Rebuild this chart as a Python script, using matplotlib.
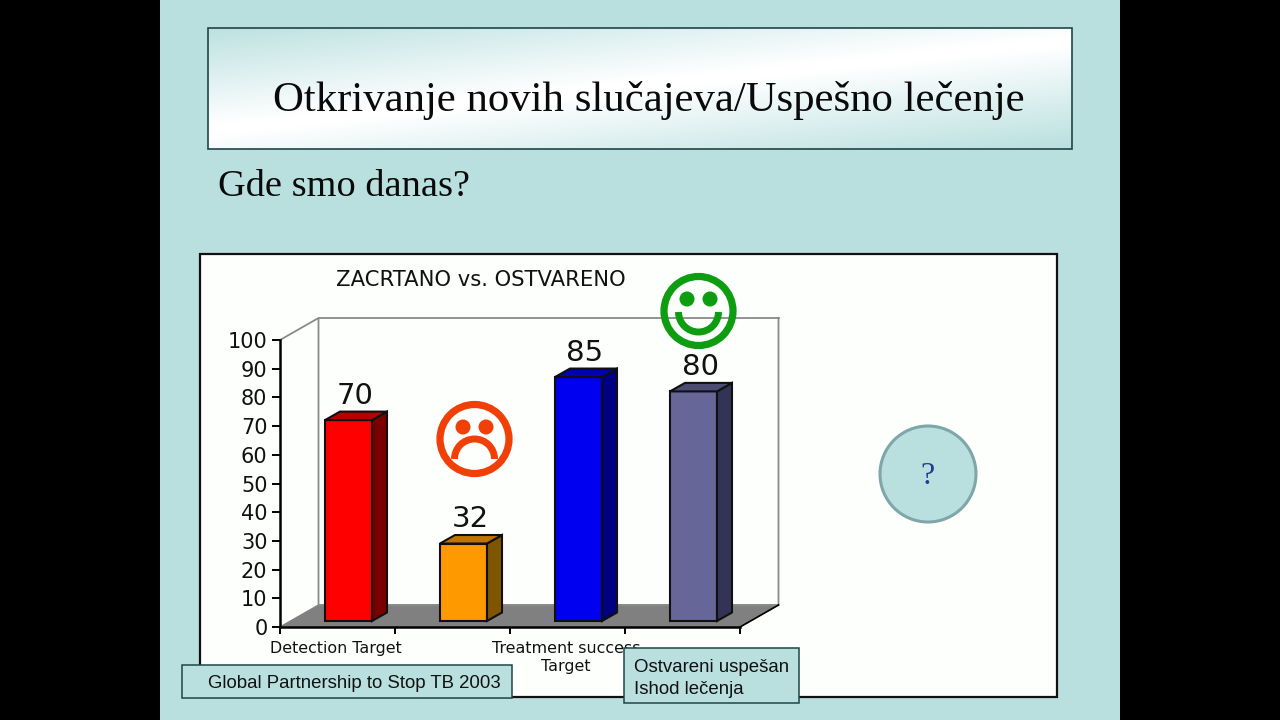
# -*- coding: utf-8 -*-
import numpy as np
import matplotlib
matplotlib.use("Agg")
import matplotlib.pyplot as plt
from matplotlib.colors import LinearSegmentedColormap
from matplotlib.patches import Arc, Circle, Polygon, Rectangle

# Donnees
x_labels = ["Detection Target", "Treatment success\nTarget"]
x_label_pos = [0.5, 2.5]
bar_pos = [0.5, 1.5, 2.5, 3.5]
bar_values = [70, 27, 85, 80]      # hauteur dessinee
bar_texts = ["70", "32", "85", "80"]  # valeur affichee
y_ticks = [0, 10, 20, 30, 40, 50, 60, 70, 80, 90, 100]
x_ticks = [0, 1, 2, 3, 4]

front_colors = ["#FF0000", "#FF9900", "#0000F0", "#666699"]
side_colors = ["#7A0000", "#7F5500", "#000080", "#333355"]
top_colors = ["#B80000", "#BF7400", "#0000B4", "#4C4C73"]

BG = "#B9E0DF"
W, H = 1280, 720
SERIF = "Liberation Serif"
SANS = "DejaVu Sans"

fig = plt.figure(figsize=(W / 100, H / 100), dpi=100, facecolor="black")

# fond de la diapo, en pixels
bg = fig.add_axes([0, 0, 1, 1], zorder=0)
bg.set_xlim(0, W)
bg.set_ylim(H, 0)
bg.axis("off")
bg.add_patch(Rectangle((160, 0), 960, 720, fc=BG, ec="none"))

# cadre du titre avec degrade en diagonale
yy, xx = np.mgrid[0:1:120j, 0:1:430j]
t = yy + 0.75 * xx
grad = np.clip(1.05 - np.abs(t - 0.85) / 0.85, 0, 1)
cmap = LinearSegmentedColormap.from_list("titre", [BG, "#FFFFFF"])
bg.imshow(grad, cmap=cmap, extent=(208, 1072, 149, 28), aspect="auto", zorder=1)
bg.set_xlim(0, W)
bg.set_ylim(H, 0)
bg.add_patch(Rectangle((208, 28), 864, 121, fc="none", ec="#1F4548", lw=1.2, zorder=2))
bg.text(273, 101, "Otkrivanje novih slučajeva/Uspešno lečenje", family=SERIF,
        fontsize=30.8, color="#0A0A0A", va="center", ha="left", zorder=3)
bg.text(218, 187, "Gde smo danas?", family=SERIF, fontsize=27.6,
        color="#0A0A0A", va="center", ha="left", zorder=3)

# panneau blanc
bg.add_patch(Rectangle((200, 254), 857, 443, fc="#FDFFFD", ec="#111111", lw=1.6, zorder=1))
bg.text(336, 280, "ZACRTANO vs. OSTVARENO", family=SANS, fontsize=15.2,
        color="#111111", va="center", ha="left", zorder=3)

# graphique : axe avant de x=280 a 740 et y=627 a 340
ax = fig.add_axes([280 / W, 1 - 627 / H, 460 / W, 287 / H], zorder=1)
ax.patch.set_alpha(0)
ax.set_xlim(0, 4)
ax.set_ylim(0, 100)

px_x = 4 / 460.0
px_y = 100 / 287.0
wall_dx, wall_dy = 38.5 * px_x, 22 * px_y
bar_dx, bar_dy = 15 * px_x, 8.5 * px_y
shift_x, shift_y = 11 * px_x, 6 * px_y
half = 23.5 * px_x

# murs et sol en perspective
ax.add_patch(Polygon([(0, 0), (4, 0), (4 + wall_dx, wall_dy), (wall_dx, wall_dy)],
                     fc="#808080", ec="#808080", lw=1, clip_on=False, zorder=1))
ax.plot([0, wall_dx, wall_dx, 4 + wall_dx, 4 + wall_dx],
        [100, 100 + wall_dy, wall_dy, wall_dy, 100 + wall_dy],
        color="#8A8A8A", lw=1.3, clip_on=False, zorder=1)
ax.plot([wall_dx, 4 + wall_dx], [100 + wall_dy, 100 + wall_dy],
        color="#8A8A8A", lw=1.3, clip_on=False, zorder=1)
ax.plot([4, 4 + wall_dx], [0, wall_dy], color="black", lw=1.2, clip_on=False, zorder=1)

for i in range(len(bar_values)):
    left = bar_pos[i] + shift_x - half
    right = bar_pos[i] + shift_x + half
    top = shift_y + bar_values[i]
    ax.bar(left, bar_values[i], width=right - left, bottom=shift_y, align="edge",
           color=front_colors[i], edgecolor="#101010", lw=1.5, zorder=3)
    ax.add_patch(Polygon([(right, shift_y), (right + bar_dx, shift_y + bar_dy),
                          (right + bar_dx, top + bar_dy), (right, top)],
                         fc=side_colors[i], ec="#101010", lw=1.5, zorder=3))
    ax.add_patch(Polygon([(left, top), (right, top), (right + bar_dx, top + bar_dy),
                          (left + bar_dx, top + bar_dy)],
                         fc=top_colors[i], ec="#101010", lw=1.5, zorder=3))
    ax.text((left + right + bar_dx) / 2 - 1 * px_x, top + bar_dy + 0.6, bar_texts[i], family=SANS,
            fontsize=21, color="#111111", ha="center", va="bottom", zorder=4)

for s in ["top", "right"]:
    ax.spines[s].set_visible(False)
ax.spines["left"].set_linewidth(1.8)
ax.spines["bottom"].set_linewidth(1.8)
ax.set_yticks(y_ticks)
ax.set_xticks(x_ticks)
ax.set_xticklabels([])
ax.tick_params(axis="y", length=5.5, width=1.4, pad=3.5, labelsize=15, labelfontfamily=SANS,
               labelcolor="#111111")
ax.tick_params(axis="x", length=5, width=1.4)
for p, lab in zip(x_label_pos, x_labels):
    ax.annotate(lab, (p, 0), xytext=(-1, -10), textcoords="offset points", family=SANS,
                fontsize=11.4, color="#111111", ha="center", va="top",
                linespacing=1.25, annotation_clip=False)

# elements poses par-dessus le graphique
top_ax = fig.add_axes([0, 0, 1, 1], zorder=3)
top_ax.set_xlim(0, W)
top_ax.set_ylim(H, 0)
top_ax.axis("off")


def smiley(cx, cy, color, happy):
    top_ax.add_patch(Circle((cx, cy), 34.5, fc="none", ec=color, lw=5.2))
    for ex in (cx - 11.5, cx + 11.5):
        top_ax.add_patch(Circle((ex, cy - 12), 7.5, fc=color, ec="none"))
    if happy:
        top_ax.add_patch(Arc((cx, cy + 1), 40, 40, theta1=0, theta2=180, ec=color, lw=5))
    else:
        top_ax.add_patch(Arc((cx, cy + 20), 40, 40, theta1=180, theta2=360, ec=color, lw=5))


smiley(474.5, 439, "#F04008", False)
smiley(698.5, 311, "#0E9C10", True)

top_ax.add_patch(Circle((928, 474), 48, fc=BG, ec="#7FA6A8", lw=2.2))
top_ax.text(928, 477, "?", family=SERIF, fontsize=23, color="#243C8C", ha="center", va="center")

top_ax.add_patch(Rectangle((182, 665), 330, 33, fc=BG, ec="#1F4548", lw=1.1))
top_ax.text(208, 684, "Global Partnership to Stop TB 2003", family="Liberation Sans", fontsize=13.4,
            color="#111111", va="center", ha="left")
top_ax.add_patch(Rectangle((624, 648), 175, 55, fc=BG, ec="#1F4548", lw=1.1))
top_ax.text(634, 667, "Ostvareni uspešan", family="Liberation Sans", fontsize=13.4,
            color="#111111", va="center", ha="left")
top_ax.text(634, 689, "Ishod lečenja", family="Liberation Sans", fontsize=13.4,
            color="#111111", va="center", ha="left")

plt.savefig("out.png", dpi=100, facecolor="black")
